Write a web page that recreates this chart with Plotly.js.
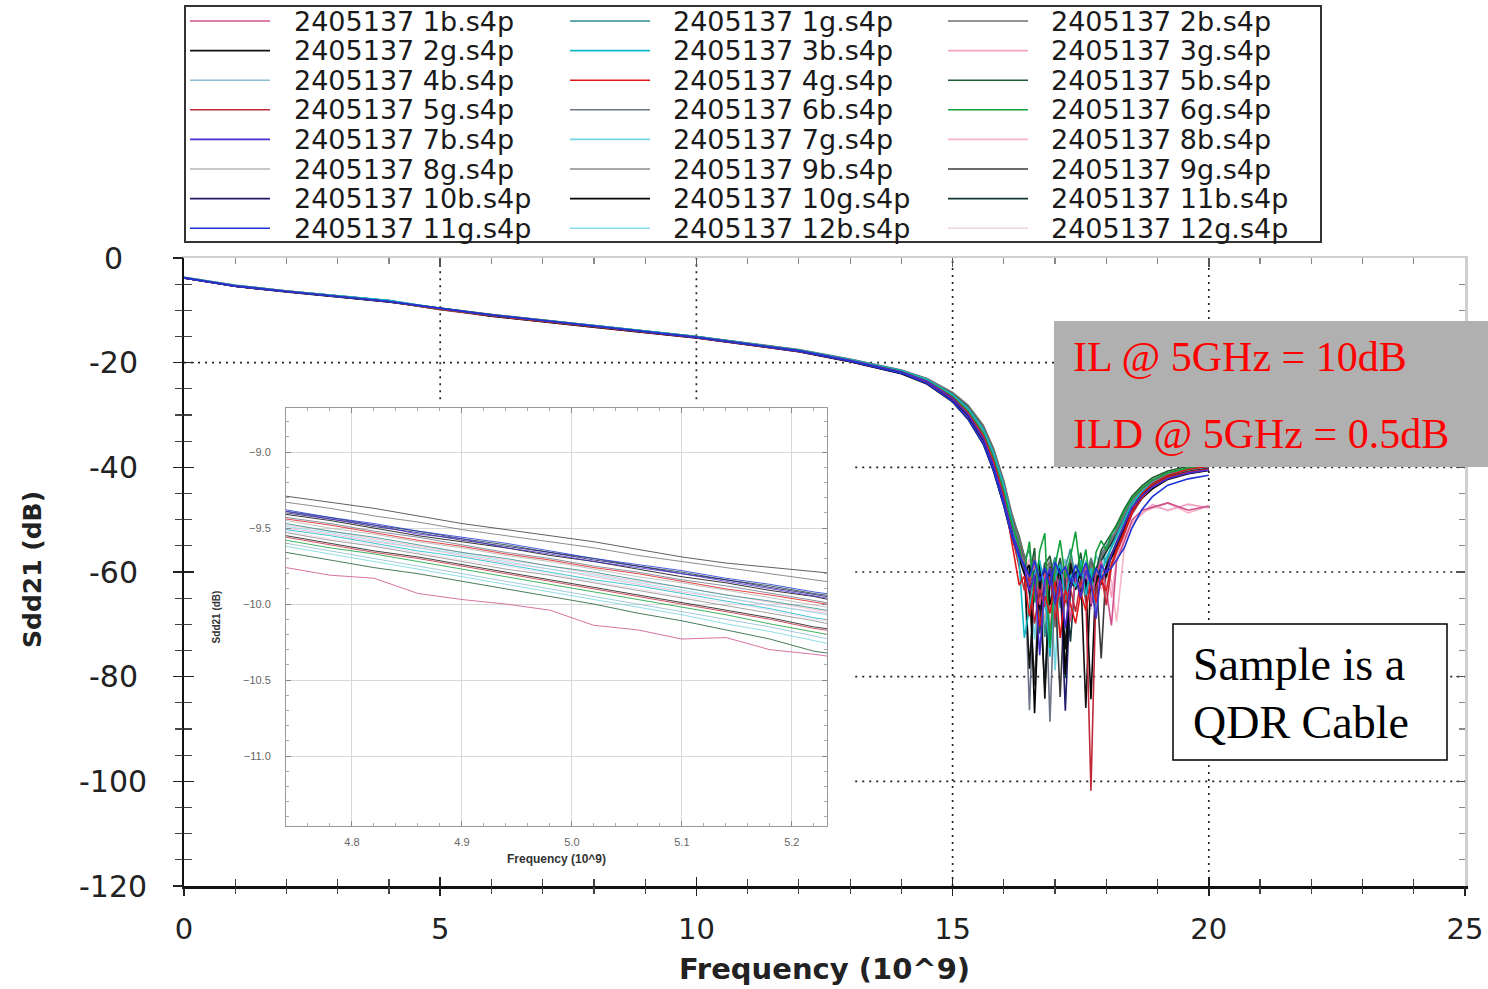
<!DOCTYPE html>
<html>
<head>
<meta charset="utf-8">
<script src="https://cdn.plot.ly/plotly-3.0.1.min.js"></script>
<style>
html,body{margin:0;padding:0;background:#fff;}
#chart{width:1488px;height:989px;}
</style>
</head>
<body>
<div id="chart"></div>
<script>
// ---------------- DATA ----------------
const seriesNames = ['2405137 1b.s4p','2405137 1g.s4p','2405137 2b.s4p','2405137 2g.s4p','2405137 3b.s4p','2405137 3g.s4p','2405137 4b.s4p','2405137 4g.s4p','2405137 5b.s4p','2405137 5g.s4p','2405137 6b.s4p','2405137 6g.s4p','2405137 7b.s4p','2405137 7g.s4p','2405137 8b.s4p','2405137 8g.s4p','2405137 9b.s4p','2405137 9g.s4p','2405137 10b.s4p','2405137 10g.s4p','2405137 11b.s4p','2405137 11g.s4p','2405137 12b.s4p','2405137 12g.s4p'];
const seriesColors = ['#d0508c','#2f8f8f','#707070','#111111','#10b8c8','#f2a6c4','#8cbcd2','#e01818','#1e5a32','#c02838','#6c7488','#12a03a','#4a2cd0','#72d6e2','#f6b4c6','#b4b4b4','#8c8c8c','#3a3a3a','#201a68','#050505','#123838','#1c34d4','#84def0','#eed6e6'];

// main chart frequency (10^9 Hz)
const freqMain = [0,1,2,4,5,6,8,10,12,13,14,14.5,15,
  15.3,15.6,15.8,16.0,16.15,
  16.3,16.4,16.5,16.6,16.7,16.8,16.9,17.0,17.1,17.2,17.3,17.4,17.5,17.6,17.7,17.8,17.9,18.0,18.1,18.2,
  18.35,18.5,18.7,18.9,19.2,19.6,20.0];

// Sdd21 (dB) per file, main chart
const m_1b  = [-3.7,-5.2,-6.3,-8.2,-9.75,-10.9,-13.0,-15.2,-17.8,-19.6,-21.8,-23.6,-26.6, -29.4,-33.8,-38.6,-45.0,-50.8, -55.6,-58.2,-62.4,-57.9,-66.3,-60.1,-71.8,-59.6,-64.7,-58.8,-69.5,-61.2,-63.0,-58.4,-66.2,-60.5,-57.9,-63.4,-70.2,-58.0, -54.2,-50.1,-48.2,-47.6,-46.8,-48.2,-47.4];
const m_1g  = [-3.8,-5.3,-6.4,-8.3,-9.85,-11.0,-13.1,-15.1,-17.7,-19.5,-21.6,-23.3,-26.2, -28.8,-33.0,-37.6,-43.8,-49.6, -54.1,-57.5,-55.8,-63.6,-58.2,-72.4,-60.3,-57.2,-66.8,-59.1,-55.6,-61.7,-58.9,-62.6,-57.4,-60.8,-56.2,-58.3,-55.1,-53.0, -50.2,-47.1,-44.9,-43.2,-41.6,-40.6,-40.0];
const m_2b  = [-3.8,-5.3,-6.3,-8.2,-9.6,-10.8,-12.9,-15.0,-17.5,-19.3,-21.4,-23.0,-25.7, -28.1,-32.0,-36.4,-42.6,-48.6, -53.6,-56.9,-61.5,-57.0,-64.2,-59.3,-58.1,-70.6,-60.4,-63.7,-57.5,-62.1,-59.4,-65.8,-58.2,-61.0,-57.0,-55.6,-53.9,-52.2, -49.0,-46.3,-44.1,-42.6,-41.1,-40.3,-39.7];
const m_2g  = [-3.8,-5.4,-6.4,-8.3,-9.7,-11.0,-13.1,-15.2,-17.8,-19.7,-21.9,-23.8,-27.0, -30.0,-34.6,-39.5,-46.0,-51.8, -56.2,-59.0,-78.5,-61.3,-58.4,-84.2,-60.6,-63.5,-59.2,-74.8,-58.3,-62.7,-60.1,-86.0,-59.6,-63.2,-58.5,-61.0,-56.8,-54.6, -51.3,-47.8,-45.2,-43.5,-41.9,-40.8,-40.1];
const m_3b  = [-3.7,-5.2,-6.3,-8.1,-9.65,-10.9,-12.9,-15.0,-17.6,-19.4,-21.5,-23.2,-26.1, -28.7,-32.8,-37.2,-43.5,-49.8, -58.2,-72.6,-66.9,-60.2,-57.8,-63.4,-76.2,-61.1,-58.5,-65.2,-60.6,-62.9,-57.8,-64.4,-59.3,-68.7,-60.2,-57.4,-55.3,-53.1, -49.9,-46.9,-44.6,-43.0,-41.4,-40.5,-39.9];
const m_3g  = [-3.8,-5.3,-6.4,-8.3,-9.9,-11.1,-13.2,-15.3,-17.9,-19.8,-22.0,-23.9,-27.2, -30.3,-35.0,-40.0,-46.6,-52.4, -56.8,-59.8,-57.6,-62.9,-67.5,-59.4,-62.8,-58.6,-61.9,-66.4,-57.3,-62.0,-60.9,-64.3,-59.1,-63.6,-61.2,-58.8,-64.9,-57.6, -53.4,-50.6,-48.9,-47.1,-48.3,-47.0,-47.8];
const m_4b  = [-3.8,-5.3,-6.3,-8.2,-9.8,-11.0,-13.0,-15.1,-17.7,-19.5,-21.7,-23.4,-26.4, -29.1,-33.4,-38.0,-44.3,-50.2, -55.0,-57.9,-62.8,-58.7,-69.3,-61.5,-58.0,-64.9,-60.2,-57.6,-63.1,-58.4,-61.7,-59.2,-66.0,-58.9,-60.6,-57.1,-55.4,-53.6, -50.5,-47.4,-45.1,-43.4,-41.8,-40.9,-40.4];
const m_4g  = [-3.8,-5.4,-6.4,-8.3,-9.75,-11.0,-13.1,-15.2,-17.8,-19.6,-21.8,-23.6,-26.7, -29.6,-34.0,-38.9,-45.5,-53.8, -62.5,-60.8,-68.5,-62.3,-70.4,-64.6,-67.9,-61.8,-72.6,-63.4,-66.1,-69.8,-63.9,-67.4,-62.0,-65.8,-61.5,-63.6,-58.4,-55.7, -52.3,-48.4,-45.0,-43.1,-41.5,-40.4,-39.8];
const m_5b  = [-3.8,-5.3,-6.4,-8.3,-9.55,-10.8,-12.9,-15.0,-17.6,-19.4,-21.5,-23.1,-25.9, -28.3,-32.2,-36.6,-42.9,-48.9, -53.2,-56.8,-60.9,-55.4,-71.8,-58.6,-56.9,-62.7,-57.4,-80.3,-59.8,-61.2,-56.3,-63.5,-58.1,-59.7,-55.8,-54.2,-52.6,-51.0, -48.0,-45.5,-43.5,-42.0,-40.7,-39.8,-39.3];
const m_5g  = [-3.8,-5.3,-6.4,-8.3,-9.85,-11.0,-13.1,-15.2,-17.8,-19.7,-21.9,-23.7,-26.9, -29.8,-34.3,-39.3,-45.9,-52.6, -59.4,-63.5,-61.0,-69.8,-63.2,-66.7,-60.8,-69.1,-62.4,-65.9,-63.1,-67.6,-61.8,-64.0,-101.8,-62.9,-60.2,-66.4,-59.0,-56.3, -52.8,-49.0,-45.8,-43.6,-41.9,-40.9,-40.3];
const m_6b  = [-3.8,-5.3,-6.3,-8.2,-9.7,-10.9,-13.0,-15.1,-17.7,-19.5,-21.6,-23.3,-26.3, -29.0,-33.2,-37.9,-44.2,-50.0, -54.8,-57.6,-86.4,-59.8,-62.5,-58.1,-88.6,-60.9,-57.3,-64.0,-59.0,-61.8,-58.2,-63.0,-57.6,-60.4,-56.4,-55.1,-53.4,-52.0, -48.8,-46.0,-44.0,-42.5,-41.1,-40.3,-39.8];
const m_6g  = [-3.8,-5.3,-6.4,-8.3,-9.8,-11.0,-13.1,-15.1,-17.7,-19.6,-21.7,-23.5,-26.5, -29.3,-33.6,-38.3,-44.7,-50.6, -55.3,-59.4,-54.2,-65.8,-56.0,-52.6,-74.5,-58.8,-53.9,-61.2,-57.1,-52.3,-60.4,-55.7,-63.1,-56.2,-54.0,-55.8,-52.7,-51.4, -48.3,-45.9,-43.9,-42.4,-41.0,-40.1,-39.6];
const m_7b  = [-3.8,-5.3,-6.4,-8.3,-9.65,-10.9,-13.0,-15.1,-17.7,-19.6,-21.8,-23.6,-26.8, -29.9,-34.5,-39.6,-46.3,-52.1, -56.4,-59.2,-63.6,-60.5,-75.9,-61.6,-59.3,-66.2,-61.4,-70.8,-62.7,-60.5,-64.8,-59.7,-62.3,-68.9,-58.6,-60.2,-56.7,-54.4, -51.0,-47.7,-45.4,-43.8,-42.2,-41.1,-40.5];
const m_7g  = [-3.7,-5.2,-6.3,-8.2,-9.6,-10.8,-12.9,-15.0,-17.6,-19.4,-21.5,-23.2,-26.0, -28.6,-32.7,-37.1,-43.4,-49.4, -53.8,-57.1,-61.8,-72.9,-58.6,-62.1,-59.6,-78.8,-60.0,-57.5,-61.4,-58.8,-63.2,-57.7,-60.9,-56.8,-59.3,-56.0,-54.1,-52.6, -49.6,-46.7,-44.6,-43.0,-41.5,-40.6,-40.1];
const m_8b  = [-3.8,-5.3,-6.4,-8.3,-9.9,-11.1,-13.2,-15.3,-17.9,-19.8,-22.1,-24.0,-27.3, -30.5,-35.2,-40.3,-47.0,-52.8, -57.2,-60.3,-65.4,-58.9,-63.7,-69.0,-61.3,-65.7,-59.6,-63.9,-58.2,-60.9,-64.6,-61.0,-67.2,-60.1,-63.4,-59.2,-61.8,-69.5, -55.4,-51.0,-48.6,-47.8,-46.8,-48.7,-47.4];
const m_8g  = [-3.8,-5.3,-6.3,-8.2,-9.75,-10.9,-13.0,-15.1,-17.7,-19.5,-21.6,-23.3,-26.3, -28.9,-33.1,-37.8,-44.0,-49.9, -54.3,-57.4,-60.6,-56.9,-62.8,-59.9,-57.3,-61.6,-58.3,-62.2,-57.9,-60.1,-58.6,-61.4,-57.2,-59.8,-56.6,-55.2,-53.6,-51.9, -48.9,-46.2,-44.3,-42.8,-41.3,-40.4,-39.9];
const m_9b  = [-3.8,-5.3,-6.4,-8.3,-9.8,-11.0,-13.1,-15.1,-17.7,-19.6,-21.7,-23.4,-26.5, -29.2,-33.5,-38.1,-44.4,-50.4, -54.9,-58.1,-62.2,-59.1,-65.5,-60.6,-58.4,-63.8,-59.7,-61.9,-58.6,-63.0,-60.2,-62.7,-58.9,-61.5,-57.6,-56.0,-54.3,-52.5, -49.4,-46.6,-44.5,-42.9,-41.4,-40.5,-40.0];
const m_9g  = [-3.8,-5.4,-6.4,-8.3,-9.7,-11.0,-13.1,-15.2,-17.8,-19.7,-21.9,-23.7,-26.9, -29.9,-34.5,-39.4,-46.0,-51.9, -56.3,-58.8,-63.0,-81.7,-60.2,-64.3,-59.0,-62.6,-83.9,-60.7,-63.2,-61.0,-65.2,-59.6,-62.8,-60.2,-76.5,-58.7,-56.5,-54.2, -51.0,-47.9,-45.4,-43.7,-42.0,-41.0,-40.4];
const m_10b = [-3.8,-5.4,-6.4,-8.4,-9.6,-11.0,-13.1,-15.2,-17.8,-19.7,-22.0,-23.9,-27.1, -30.2,-34.9,-39.9,-46.6,-52.3, -56.6,-59.3,-64.1,-60.4,-67.2,-62.0,-60.1,-65.6,-61.2,-86.5,-62.8,-59.9,-64.0,-61.3,-66.5,-60.8,-62.4,-59.3,-57.0,-55.0, -51.7,-48.2,-45.6,-43.9,-42.2,-41.1,-40.5];
const m_10g = [-3.8,-5.4,-6.5,-8.4,-9.75,-11.1,-13.2,-15.3,-17.9,-19.8,-22.1,-24.1,-27.5, -30.8,-35.6,-40.8,-47.4,-53.2, -57.5,-60.4,-58.6,-87.0,-61.7,-59.8,-66.3,-60.9,-58.8,-79.6,-61.0,-63.4,-59.6,-62.1,-84.3,-60.5,-61.8,-59.0,-57.3,-55.5, -52.1,-48.6,-45.9,-44.1,-42.3,-41.2,-40.6];
const m_11b = [-3.8,-5.3,-6.4,-8.3,-9.65,-10.9,-13.0,-15.1,-17.7,-19.6,-21.8,-23.5,-26.6, -29.5,-33.9,-38.7,-45.2,-51.0, -55.4,-58.4,-62.3,-59.6,-64.9,-82.1,-60.0,-62.4,-58.9,-61.5,-73.3,-60.2,-62.8,-58.6,-61.7,-59.4,-57.8,-56.2,-54.6,-52.8, -49.8,-46.9,-44.8,-43.1,-41.6,-40.7,-40.2];
const m_11g = [-3.8,-5.4,-6.4,-8.3,-9.6,-10.9,-13.0,-15.2,-17.8,-19.7,-22.0,-24.0,-27.4, -30.7,-35.5,-40.6,-47.2,-53.0, -57.2,-58.6,-60.9,-57.8,-61.7,-59.2,-62.6,-58.1,-60.4,-59.0,-61.9,-58.7,-60.8,-58.2,-62.0,-59.3,-61.1,-60.0,-59.2,-57.6, -55.4,-51.6,-48.0,-45.6,-43.4,-42.2,-41.5];
const m_12b = [-3.7,-5.2,-6.3,-8.2,-9.7,-10.9,-13.0,-15.0,-17.6,-19.5,-21.6,-23.3,-26.2, -28.9,-33.1,-37.7,-43.9,-49.8, -54.1,-57.4,-64.6,-58.3,-60.8,-67.4,-59.5,-62.0,-57.6,-63.1,-58.4,-61.2,-57.9,-62.5,-58.0,-60.1,-56.5,-55.0,-53.3,-51.7, -48.7,-46.0,-44.1,-42.6,-41.2,-40.4,-39.9];
const m_12g = [-3.8,-5.3,-6.4,-8.3,-9.9,-11.1,-13.2,-15.3,-17.9,-19.8,-22.0,-23.9,-27.2, -30.4,-35.1,-40.1,-46.8,-52.6, -56.9,-59.6,-62.5,-60.0,-64.4,-61.2,-63.3,-60.6,-62.9,-60.1,-61.7,-60.4,-63.0,-61.5,-62.2,-60.7,-61.9,-60.4,-58.6,-57.2, -53.8,-50.9,-48.7,-47.6,-48.0,-47.2,-47.6];

// inset (zoom around 5 GHz)
const freqZoom = [4.74,4.78,4.82,4.86,4.90,4.94,4.98,5.02,5.06,5.10,5.14,5.18,5.22,5.24];
const z_1b  = [-9.76,-9.81,-9.83,-9.93,-9.97,-10.00,-10.04,-10.14,-10.17,-10.23,-10.22,-10.30,-10.33,-10.35];
const z_1g  = [-9.47,-9.52,-9.56,-9.61,-9.66,-9.70,-9.75,-9.79,-9.84,-9.89,-9.94,-9.98,-10.03,-10.05];
const z_2b  = [-9.33,-9.37,-9.42,-9.46,-9.51,-9.55,-9.59,-9.63,-9.68,-9.72,-9.76,-9.80,-9.84,-9.86];
const z_2g  = [-9.55,-9.60,-9.65,-9.69,-9.74,-9.79,-9.84,-9.89,-9.94,-9.99,-10.04,-10.09,-10.15,-10.17];
const z_3b  = [-9.51,-9.55,-9.60,-9.65,-9.69,-9.74,-9.79,-9.84,-9.88,-9.93,-9.98,-10.03,-10.09,-10.11];
const z_3g  = [-9.50,-9.54,-9.59,-9.63,-9.68,-9.73,-9.77,-9.82,-9.87,-9.92,-9.96,-10.01,-10.05,-10.07];
const z_4b  = [-9.60,-9.65,-9.70,-9.75,-9.80,-9.85,-9.90,-9.95,-10.00,-10.05,-10.10,-10.15,-10.21,-10.24];
const z_4g  = [-9.44,-9.48,-9.53,-9.58,-9.62,-9.67,-9.71,-9.76,-9.80,-9.85,-9.90,-9.94,-9.99,-10.01];
const z_5b  = [-9.66,-9.71,-9.76,-9.80,-9.85,-9.90,-9.95,-10.00,-10.06,-10.11,-10.17,-10.23,-10.31,-10.33];
const z_5g  = [-9.56,-9.61,-9.66,-9.70,-9.75,-9.80,-9.85,-9.90,-9.95,-10.00,-10.05,-10.10,-10.16,-10.18];
const z_6b  = [-9.43,-9.47,-9.52,-9.56,-9.61,-9.66,-9.70,-9.75,-9.79,-9.84,-9.88,-9.93,-9.98,-10.00];
const z_6g  = [-9.58,-9.63,-9.67,-9.72,-9.77,-9.82,-9.87,-9.92,-9.97,-10.02,-10.07,-10.13,-10.18,-10.21];
const z_7b  = [-9.39,-9.44,-9.48,-9.54,-9.57,-9.63,-9.67,-9.72,-9.76,-9.80,-9.85,-9.90,-9.95,-9.97];
const z_7g  = [-9.62,-9.67,-9.72,-9.77,-9.82,-9.87,-9.92,-9.97,-10.02,-10.07,-10.13,-10.18,-10.24,-10.27];
const z_8b  = [-9.48,-9.52,-9.57,-9.62,-9.66,-9.71,-9.75,-9.80,-9.85,-9.89,-9.94,-9.99,-10.04,-10.06];
const z_8g  = [-9.45,-9.50,-9.54,-9.59,-9.63,-9.68,-9.72,-9.77,-9.82,-9.86,-9.91,-9.96,-10.01,-10.03];
const z_9b  = [-9.53,-9.58,-9.62,-9.67,-9.72,-9.77,-9.81,-9.86,-9.91,-9.96,-10.01,-10.06,-10.11,-10.14];
const z_9g  = [-9.29,-9.33,-9.37,-9.42,-9.47,-9.51,-9.55,-9.59,-9.64,-9.69,-9.73,-9.76,-9.79,-9.80];
const z_10b = [-9.40,-9.44,-9.49,-9.53,-9.58,-9.62,-9.66,-9.71,-9.75,-9.80,-9.84,-9.89,-9.94,-9.96];
const z_10g = [-9.41,-9.45,-9.50,-9.55,-9.59,-9.63,-9.68,-9.72,-9.77,-9.82,-9.86,-9.91,-9.95,-9.98];
const z_11b = [-9.39,-9.43,-9.48,-9.52,-9.57,-9.61,-9.66,-9.70,-9.75,-9.79,-9.84,-9.88,-9.93,-9.95];
const z_11g = [-9.38,-9.43,-9.47,-9.52,-9.56,-9.60,-9.65,-9.70,-9.74,-9.78,-9.83,-9.87,-9.92,-9.94];
const z_12b = [-9.49,-9.53,-9.58,-9.63,-9.67,-9.72,-9.77,-9.81,-9.86,-9.91,-9.96,-10.01,-10.06,-10.08];
const z_12g = [-9.52,-9.57,-9.61,-9.66,-9.71,-9.75,-9.80,-9.85,-9.90,-9.95,-9.99,-10.04,-10.10,-10.12];

const xTickLabels = [0,5,10,15,20,25];
const yTickLabels = [0,-20,-40,-60,-80,-100,-120];
const zoomXTicks = [4.8,4.9,5.0,5.1,5.2];
const zoomYTicks = [-9.0,-9.5,-10.0,-10.5,-11.0];
const noteIL = 'IL @ 5GHz = 10dB';
const noteILD = 'ILD @ 5GHz = 0.5dB';
const noteSample1 = 'Sample is a';
const noteSample2 = 'QDR Cable';

const mainSeries = [m_1b,m_1g,m_2b,m_2g,m_3b,m_3g,m_4b,m_4g,m_5b,m_5g,m_6b,m_6g,m_7b,m_7g,m_8b,m_8g,m_9b,m_9g,m_10b,m_10g,m_11b,m_11g,m_12b,m_12g];
const zoomSeries = [z_1b,z_1g,z_2b,z_2g,z_3b,z_3g,z_4b,z_4g,z_5b,z_5g,z_6b,z_6g,z_7b,z_7g,z_8b,z_8g,z_9b,z_9g,z_10b,z_10g,z_11b,z_11g,z_12b,z_12g];
// draw order (light first, dark next, saturated colours on top)
const drawOrder = [23,14,5,15,13,22,6,1,16,10,8,20,2,17,18,3,19,0,9,4,11,7,12,21];

// ---------------- LAYOUT HELPERS ----------------
const W = 1488, H = 989, ML = 184, MR = 23, MT = 258, MB = 103;
const PW = W - ML - MR, PH = H - MT - MB;
const px2x = p => (p - ML) / PW;
const py2y = p => (H - MB - p) / PH;

const traces = [];
drawOrder.forEach(i => {
  traces.push({x: freqMain, y: mainSeries[i], type: 'scatter', mode: 'lines', name: seriesNames[i],
    line: {color: seriesColors[i], width: 1.6}, showlegend: false, xaxis: 'x', yaxis: 'y'});
});
drawOrder.forEach(i => {
  traces.push({x: freqZoom, y: zoomSeries[i], type: 'scatter', mode: 'lines', name: seriesNames[i],
    line: {color: seriesColors[i], width: 1}, opacity: 0.8, showlegend: false, xaxis: 'x2', yaxis: 'y2'});
});
// helper (empty) traces so the tick-only overlay axes are drawn
[['x3','y'],['x4','y'],['x','y3'],['x','y4']].forEach(p => {
  traces.push({x: [null], y: [null], type: 'scatter', mode: 'lines', showlegend: false, hoverinfo: 'skip', xaxis: p[0], yaxis: p[1]});
});

const sansFont = 'DejaVu Sans, Verdana, sans-serif';
const serifFont = 'Liberation Serif, Times New Roman, serif';

const shapes = [];
const annotations = [];

// dotted grid (only where visible in the original)
const dot = {color: '#222', width: 1.7, dash: '2px,5px'};
shapes.push({type: 'line', xref: 'x', yref: 'y', x0: 0, x1: 25, y0: -20, y1: -20, line: dot, layer: 'below'});
[-40,-60,-80,-100].forEach(v => shapes.push({type: 'line', xref: 'x', yref: 'y', x0: 13.1, x1: 25, y0: v, y1: v, line: dot, layer: 'below'}));
[15,20].forEach(v => shapes.push({type: 'line', xref: 'x', yref: 'y', x0: v, x1: v, y0: -120, y1: 0, line: dot, layer: 'below'}));
[5,10].forEach(v => shapes.push({type: 'line', xref: 'x', yref: 'y', x0: v, x1: v, y0: -27, y1: 0, line: dot, layer: 'below'}));

// y tick labels (centred, as in the original)
yTickLabels.forEach(v => annotations.push({xref: 'paper', yref: 'y', x: px2x(113), y: v, text: String(v), showarrow: false,
  xanchor: 'center', yanchor: 'middle', font: {family: sansFont, size: 30, color: '#222'}}));
// y title
annotations.push({xref: 'paper', yref: 'paper', x: px2x(32), y: py2y(570), text: '<b>Sdd21 (dB)</b>', textangle: -90, showarrow: false,
  xanchor: 'center', yanchor: 'middle', font: {family: sansFont, size: 25, color: '#222'}});

// legend (drawn by hand to match the original geometry)
shapes.push({type: 'rect', xref: 'paper', yref: 'paper', x0: px2x(185), x1: px2x(1321), y0: py2y(242), y1: py2y(6),
  line: {color: '#333', width: 2}, fillcolor: 'white', layer: 'above'});
const colLine = [190, 570, 948], colText = [292, 671, 1049];
seriesNames.forEach((n, i) => {
  const r = Math.floor(i / 3), c = i % 3;
  const yy = 21 + r * 29.6;
  shapes.push({type: 'line', xref: 'paper', yref: 'paper', x0: px2x(colLine[c]), x1: px2x(colLine[c] + 80), y0: py2y(yy), y1: py2y(yy),
    line: {color: seriesColors[i], width: 1.6}, layer: 'above'});
  annotations.push({xref: 'paper', yref: 'paper', x: px2x(colText[c]), y: py2y(yy), text: n, showarrow: false,
    xanchor: 'left', yanchor: 'middle', font: {family: sansFont, size: 27, color: '#1a1a1a'}});
});

// IL / ILD box
shapes.push({type: 'rect', xref: 'paper', yref: 'paper', x0: px2x(1054), x1: px2x(1488), y0: py2y(467), y1: py2y(321),
  fillcolor: '#b0b0b0', line: {width: 0}, layer: 'above'});
annotations.push({xref: 'paper', yref: 'paper', x: px2x(1071), y: py2y(357), text: noteIL, showarrow: false, xanchor: 'left', yanchor: 'middle',
  font: {family: serifFont, size: 42, color: '#ff0000'}});
annotations.push({xref: 'paper', yref: 'paper', x: px2x(1071), y: py2y(434), text: noteILD, showarrow: false, xanchor: 'left', yanchor: 'middle',
  font: {family: serifFont, size: 42, color: '#ff0000'}});

// sample box
shapes.push({type: 'rect', xref: 'paper', yref: 'paper', x0: px2x(1173), x1: px2x(1447), y0: py2y(760), y1: py2y(624),
  fillcolor: 'white', line: {color: '#000', width: 1.5}, layer: 'above'});
annotations.push({xref: 'paper', yref: 'paper', x: px2x(1191), y: py2y(664), text: noteSample1, showarrow: false, xanchor: 'left', yanchor: 'middle',
  font: {family: serifFont, size: 46, color: '#000'}});
annotations.push({xref: 'paper', yref: 'paper', x: px2x(1191), y: py2y(722), text: noteSample2, showarrow: false, xanchor: 'left', yanchor: 'middle',
  font: {family: serifFont, size: 46, color: '#000'}});

const noGrid = {showgrid: false, zeroline: false};
const layout = {
  width: W, height: H,
  margin: {l: ML, r: MR, t: MT, b: MB, pad: 0},
  paper_bgcolor: 'white', plot_bgcolor: 'white',
  showlegend: false,
  xaxis: Object.assign({}, noGrid, {
    range: [0, 25], autorange: false, tick0: 0, dtick: 5, tickvals: xTickLabels,
    ticks: 'inside', ticklen: 9, tickwidth: 1.5, tickcolor: '#222',
    showline: true, linecolor: '#111', linewidth: 2.5,
    minor: {tick0: 0, dtick: 1, ticks: 'inside', ticklen: 7, tickwidth: 1.2, tickcolor: '#444'},
    tickfont: {family: sansFont, size: 29, color: '#222'}, ticklabelstandoff: 16,
    title: {text: '<b>Frequency (10^9)</b>', font: {family: sansFont, size: 29, color: '#222'}, standoff: 14}
  }),
  xaxis3: Object.assign({}, noGrid, {
    overlaying: 'x', anchor: 'y', side: 'bottom', range: [0, 25], autorange: false, tick0: 0, dtick: 5,
    ticks: 'outside', ticklen: 9, tickwidth: 1.5, tickcolor: '#222', showticklabels: false, showline: false,
    minor: {tick0: 0, dtick: 1, ticks: 'outside', ticklen: 7, tickwidth: 1.2, tickcolor: '#444'}
  }),
  xaxis4: Object.assign({}, noGrid, {
    overlaying: 'x', anchor: 'y', side: 'top', range: [0, 25], autorange: false, tick0: 0, dtick: 5,
    ticks: 'inside', ticklen: 9, tickwidth: 1.5, tickcolor: '#555', showticklabels: false,
    showline: true, linecolor: '#cfcfcf', linewidth: 2.5,
    minor: {tick0: 0, dtick: 1, ticks: 'inside', ticklen: 6, tickwidth: 1.2, tickcolor: '#888'}
  }),
  yaxis: Object.assign({}, noGrid, {
    range: [-120, 0], autorange: false, tick0: 0, dtick: 20,
    ticks: 'inside', ticklen: 10, tickwidth: 1.5, tickcolor: '#222', showticklabels: false,
    showline: true, linecolor: '#111', linewidth: 2.5,
    minor: {tick0: 0, dtick: 5, ticks: 'inside', ticklen: 8, tickwidth: 1.2, tickcolor: '#444'}
  }),
  yaxis3: Object.assign({}, noGrid, {
    overlaying: 'y', anchor: 'x', side: 'left', range: [-120, 0], autorange: false, tick0: 0, dtick: 20,
    ticks: 'outside', ticklen: 10, tickwidth: 1.5, tickcolor: '#222', showticklabels: false, showline: false,
    minor: {tick0: 0, dtick: 5, ticks: 'outside', ticklen: 8, tickwidth: 1.2, tickcolor: '#444'}
  }),
  yaxis4: Object.assign({}, noGrid, {
    overlaying: 'y', anchor: 'x', side: 'right', range: [-120, 0], autorange: false, tick0: 0, dtick: 20,
    ticks: 'inside', ticklen: 9, tickwidth: 1.5, tickcolor: '#555', showticklabels: false,
    showline: true, linecolor: '#cfcfcf', linewidth: 2.5,
    minor: {tick0: 0, dtick: 5, ticks: 'inside', ticklen: 6, tickwidth: 1.2, tickcolor: '#888'}
  }),
  // inset
  xaxis2: {
    domain: [px2x(286), px2x(827)], anchor: 'y2', range: [4.74, 5.232], autorange: false,
    tickvals: zoomXTicks, tickformat: '.1f', ticks: 'inside', ticklen: 5, tickcolor: '#888',
    showline: true, linecolor: '#9a9a9a', linewidth: 1, mirror: 'ticks',
    showgrid: true, gridcolor: '#d8d8d8', gridwidth: 1, zeroline: false,
    minor: {tick0: 4.8, dtick: 0.02, ticks: 'inside', ticklen: 3, tickcolor: '#aaa', showgrid: false},
    tickfont: {family: 'Liberation Sans, Arial, sans-serif', size: 11, color: '#666'}, ticklabelstandoff: 6,
    title: {text: '<b>Frequency (10^9)</b>', font: {family: 'Liberation Sans, Arial, sans-serif', size: 12, color: '#333'}, standoff: 7}
  },
  yaxis2: {
    domain: [py2y(826), py2y(408)], anchor: 'x2', range: [-11.46, -8.71], autorange: false,
    tickvals: zoomYTicks, tickformat: '.1f', ticks: 'inside', ticklen: 5, tickcolor: '#888',
    showline: true, linecolor: '#9a9a9a', linewidth: 1, mirror: 'ticks',
    showgrid: true, gridcolor: '#d8d8d8', gridwidth: 1, zeroline: false,
    minor: {tick0: -9.0, dtick: 0.1, ticks: 'inside', ticklen: 3, tickcolor: '#aaa', showgrid: false},
    tickfont: {family: 'Liberation Sans, Arial, sans-serif', size: 11, color: '#666'}, ticklabelstandoff: 12,
    title: {text: '<b>Sdd21 (dB)</b>', font: {family: 'Liberation Sans, Arial, sans-serif', size: 10, color: '#333'}, standoff: 20}
  },
  shapes: shapes,
  annotations: annotations
};

Plotly.newPlot('chart', traces, layout, {displayModeBar: false, staticPlot: true});
</script>
</body>
</html>
